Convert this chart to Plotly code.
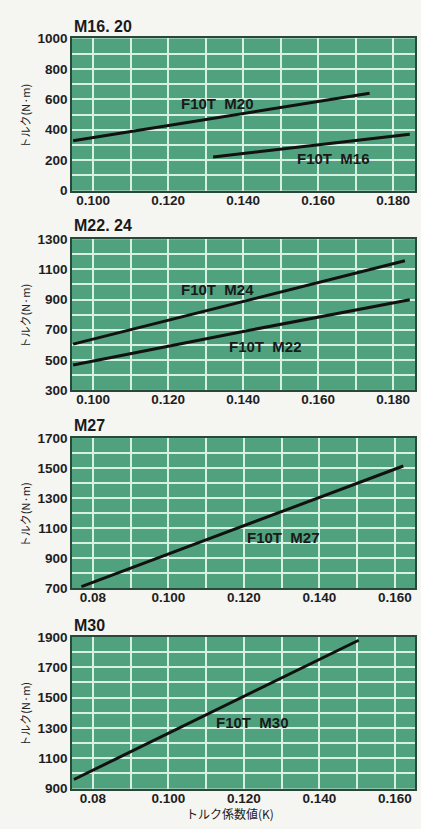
import plotly.graph_objects as go

# ---------------- data ----------------
panel_titles = ["M16. 20", "M22. 24", "M27", "M30"]

# torque coefficient k  vs  torque (N·m)
m20_k = [0.0947, 0.130, 0.1737]
m20_t = [328, 468, 640]
m16_k = [0.132, 0.160, 0.1844]
m16_t = [221, 301, 371]

m24_k = [0.0947, 0.140, 0.1831]
m24_t = [604, 887, 1157]
m22_k = [0.0947, 0.140, 0.1844]
m22_t = [465, 688, 899]

m27_k = [0.0770, 0.120, 0.1622]
m27_t = [711, 1116, 1514]

m30_k = [0.0750, 0.120, 0.1504]
m30_t = [960, 1505, 1878]

x_ticks_a = [0.10, 0.12, 0.14, 0.16, 0.18]
x_text_a = ["0.100", "0.120", "0.140", "0.160", "0.180"]
x_ticks_b = [0.08, 0.10, 0.12, 0.14, 0.16]
x_text_b = ["0.08", "0.100", "0.120", "0.140", "0.160"]

x_ranges = [[0.0944, 0.1858], [0.0944, 0.1858], [0.0745, 0.1653], [0.0745, 0.1653]]
y_ranges = [[0, 1000], [300, 1300], [700, 1700], [900, 1900]]

series = [
    (1, m20_k, m20_t, "F10T\u00a0\u00a0M20", 0.1333, 575),
    (1, m16_k, m16_t, "F10T\u00a0\u00a0M16", 0.1642, 210),
    (2, m24_k, m24_t, "F10T\u00a0\u00a0M24", 0.1332, 964),
    (2, m22_k, m22_t, "F10T\u00a0\u00a0M22", 0.1460, 588),
    (3, m27_k, m27_t, "F10T\u00a0\u00a0M27", 0.1304, 1038),
    (4, m30_k, m30_t, "F10T\u00a0\u00a0M30", 0.1222, 1335),
]

y_axis_title = "トルク(N·m)"
x_axis_title = "トルク係数値(K)"

# ---------------- layout geometry (pixels) ----------------
W, H = 421, 829
left_px, right_px = 72, 415
panels_px = [(32, 187), (236.5, 390), (439, 592), (641.5, 796)]  # top, bottom
title_y_px = [20, 222.5, 426, 630]

FONT = "Liberation Sans, Arial, Helvetica, sans-serif"
JP = "Noto Sans CJK JP, sans-serif"
GREEN = "#4fa27d"
GRID = "#d6f1e2"
BORDER = "#27493a"
TICKFONT = dict(family=FONT, size=13.5, color="#1e1e1e")

fig = go.Figure()
annotations = []
layout = {}

for i in range(4):
    n = i + 1
    xa = "xaxis" if n == 1 else f"xaxis{n}"
    ya = "yaxis" if n == 1 else f"yaxis{n}"
    top, bot = panels_px[i]
    dom_y = [1 - bot / H, 1 - top / H]
    ticks_v = x_ticks_a if i < 2 else x_ticks_b
    ticks_t = x_text_a if i < 2 else x_text_b
    layout[xa] = dict(
        domain=[left_px / W, right_px / W],
        range=x_ranges[i],
        anchor=f"y{n if n > 1 else ''}",
        tickmode="array", tickvals=ticks_v,
        ticktext=[f"<b>{t}</b>" for t in ticks_t],
        showgrid=False, zeroline=False,
        minor=dict(tickmode="linear", tick0=0, dtick=0.01, showgrid=True,
                   gridcolor=GRID, gridwidth=2, ticks=""),
        showline=True, linecolor=BORDER, linewidth=1.5, mirror=True,
        ticks="", tickfont=TICKFONT, ticklabelstandoff=-4,
        fixedrange=True,
    )
    yv = list(range(y_ranges[i][0], y_ranges[i][1] + 1, 200))
    layout[ya] = dict(
        domain=dom_y,
        range=y_ranges[i],
        anchor=f"x{n if n > 1 else ''}",
        tickmode="array", tickvals=yv, ticktext=[f"<b>{v}</b>" for v in yv],
        showgrid=True, gridcolor=GRID, gridwidth=2, zeroline=False,
        minor=dict(tickmode="linear", tick0=y_ranges[i][0], dtick=100,
                   showgrid=True, gridcolor=GRID, gridwidth=2, ticks=""),
        showline=True, linecolor=BORDER, linewidth=1.5, mirror=True,
        ticks="", tickfont=TICKFONT,
        fixedrange=True,
    )
    # panel title
    annotations.append(dict(
        text=f"<b>{panel_titles[i]}</b>", xref="paper", yref="paper",
        x=left_px / W, y=1 - title_y_px[i] / H, xanchor="left", yanchor="middle",
        showarrow=False, font=dict(family=FONT, size=16, color="#1a1a1a"),
    ))
    # y-axis title
    annotations.append(dict(
        text=y_axis_title, xref="paper", yref="paper",
        x=25 / W, y=1 - ((top + bot) / 2 + 2) / H, xanchor="center", yanchor="middle",
        textangle=-90, showarrow=False, font=dict(family=JP, size=11, color="#222"),
    ))

for (n, ks, ts, label, lx, ly) in series:
    suffix = "" if n == 1 else str(n)
    fig.add_trace(go.Scatter(
        x=ks, y=ts, mode="lines", xaxis=f"x{suffix}", yaxis=f"y{suffix}",
        line=dict(color="#111111", width=3), showlegend=False, hoverinfo="skip",
    ))
    annotations.append(dict(
        text=f"<b>{label}</b>", xref=f"x{suffix}", yref=f"y{suffix}",
        x=lx, y=ly, xanchor="center", yanchor="middle", showarrow=False,
        font=dict(family=FONT, size=15, color="#1a1a1a"),
    ))

annotations.append(dict(
    text=x_axis_title, xref="paper", yref="paper",
    x=230 / W, y=1 - 821 / H, xanchor="center", yanchor="middle",
    showarrow=False, font=dict(family=JP, size=12, color="#222"),
))

fig.update_layout(
    width=W, height=H, autosize=False,
    margin=dict(l=0, r=0, t=0, b=0),
    paper_bgcolor="#f5f5f2", plot_bgcolor=GREEN,
    annotations=annotations, showlegend=False,
    **layout,
)

fig.write_html(
    "out.html",
    config={"displayModeBar": False},
    post_script="document.body.style.margin='0';document.body.style.overflow='hidden';",
)
